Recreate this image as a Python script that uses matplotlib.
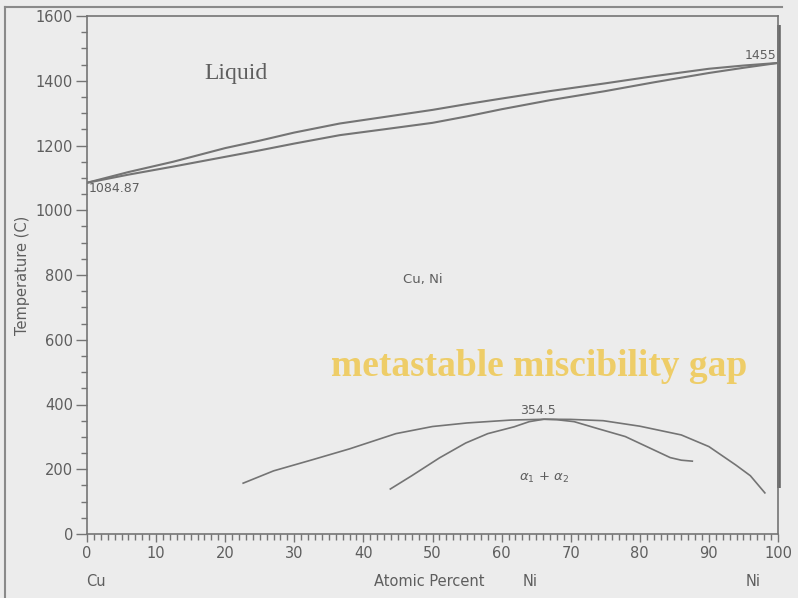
import matplotlib.pyplot as plt
from matplotlib.ticker import MultipleLocator
from matplotlib.lines import Line2D

# Cu-Ni phase diagram: liquidus / solidus and the metastable miscibility gap
liquidus_x = [0, 6, 12.5, 20, 25, 30, 36.6, 43, 50, 55, 60, 67, 75, 82, 90, 95, 100]
liquidus_t = [1084.87, 1118, 1150, 1192, 1215, 1240, 1268, 1288, 1310, 1328,
              1345, 1368, 1392, 1414, 1437, 1447, 1455]

solidus_x = [0, 6, 12.5, 20, 25, 30, 36.6, 43, 50, 55, 60, 67, 75, 82, 90, 95, 100]
solidus_t = [1084.87, 1110, 1135, 1165, 1185, 1206, 1232, 1250, 1270, 1290,
             1312, 1340, 1368, 1395, 1424, 1440, 1455]

binodal_x = [22.6, 27, 32.4, 38, 44.7, 50, 55, 61.4, 66.3, 70, 74.7, 80, 86,
             90, 93.9, 96, 98.1]
binodal_t = [157, 195, 228, 263, 310, 332, 343, 352, 354.5, 354, 350, 333,
             306, 270, 213, 180, 127]

spinodal_x = [43.9, 47, 51, 54.8, 58, 61.8, 64, 66.1, 68, 70.5, 74, 77.9,
              81, 84.4, 86, 87.6]
spinodal_t = [139, 180, 235, 281, 310, 331, 347, 354.5, 353, 347, 325, 301,
              270, 236, 228, 225]

# vertical line at pure Ni
ni_edge_t = [142, 1572]

bg = "#ececec"
line_col = "#747474"
text_col = "#5e5e5e"

fig = plt.figure(figsize=(7.98, 5.98), dpi=100, facecolor=bg)
ax = fig.add_axes([87 / 798, 64 / 598, 691 / 798, 518 / 598])
ax.set_facecolor(bg)

for xs, ts in [(liquidus_x, liquidus_t), (solidus_x, solidus_t)]:
    ax.plot(xs, ts, color=line_col, lw=1.5)
for xs, ts in [(binodal_x, binodal_t), (spinodal_x, spinodal_t)]:
    ax.plot(xs, ts, color=line_col, lw=1.2)
ax.plot([100.15, 100.15], ni_edge_t, color="#6a6a6a", lw=2.6, clip_on=False,
        solid_capstyle="butt")

ax.set_xlim(0, 100)
ax.set_ylim(0, 1600)
ax.xaxis.set_major_locator(MultipleLocator(10))
ax.xaxis.set_minor_locator(MultipleLocator(1))
ax.yaxis.set_major_locator(MultipleLocator(200))
ax.yaxis.set_minor_locator(MultipleLocator(50))
ax.tick_params(axis="y", which="major", length=8, width=1, color=line_col,
               labelcolor=text_col, labelsize=10.5, pad=2)
ax.tick_params(axis="y", which="minor", length=4, width=1, color=line_col)
ax.tick_params(axis="x", which="major", length=6, width=1, color=line_col,
               labelcolor=text_col, labelsize=10.5, pad=3)
ax.tick_params(axis="x", which="minor", length=4, width=1, color=line_col)
for s in ax.spines.values():
    s.set_color(line_col)
    s.set_linewidth(1.2)

ax.set_ylabel("Temperature (C)", color=text_col, fontsize=10.5, labelpad=4)

# region labels
ax.text(21.6, 1421, "Liquid", family="Liberation Serif", fontsize=17,
        color=text_col, ha="center", va="center")
ax.text(48.6, 787, "Cu, Ni", fontsize=9.5, color=text_col,
        ha="center", va="center")
ax.text(66.1, 172, r"$\alpha_1$ + $\alpha_2$", fontsize=9.5, color=text_col,
        ha="center", va="center")
ax.text(65.3, 382, "354.5", fontsize=9, color=text_col, ha="center", va="center")
ax.text(99.8, 1478, "1455", fontsize=9, color=text_col, ha="right", va="center")
ax.text(0.3, 1068, "1084.87", fontsize=9, color=text_col, ha="left", va="center")
ax.text(65.5, 516, "metastable miscibility gap", family="Liberation Serif",
        fontweight="bold", fontsize=27, color="#eecd68",
        ha="center", va="center")

# composition labels under the axis
for xv, s in [(1.3, "Cu"), (49.5, "Atomic Percent"), (64.2, "Ni"), (96.4, "Ni")]:
    ax.annotate(s, xy=(xv, 0), xycoords=("data", "axes fraction"),
                xytext=(0, -34), textcoords="offset points", fontsize=10.5,
                color=text_col, ha="center", va="center")

# outer frame
fig.add_artist(Line2D([5 / 798, 5 / 798], [0, 1 - 7 / 598],
                      transform=fig.transFigure, color="#8a8a8a", lw=1.5))
fig.add_artist(Line2D([5 / 798, 782 / 798], [1 - 7 / 598, 1 - 7 / 598],
                      transform=fig.transFigure, color="#8a8a8a", lw=1.5))

fig.savefig("out.png", dpi=100, facecolor=bg)
